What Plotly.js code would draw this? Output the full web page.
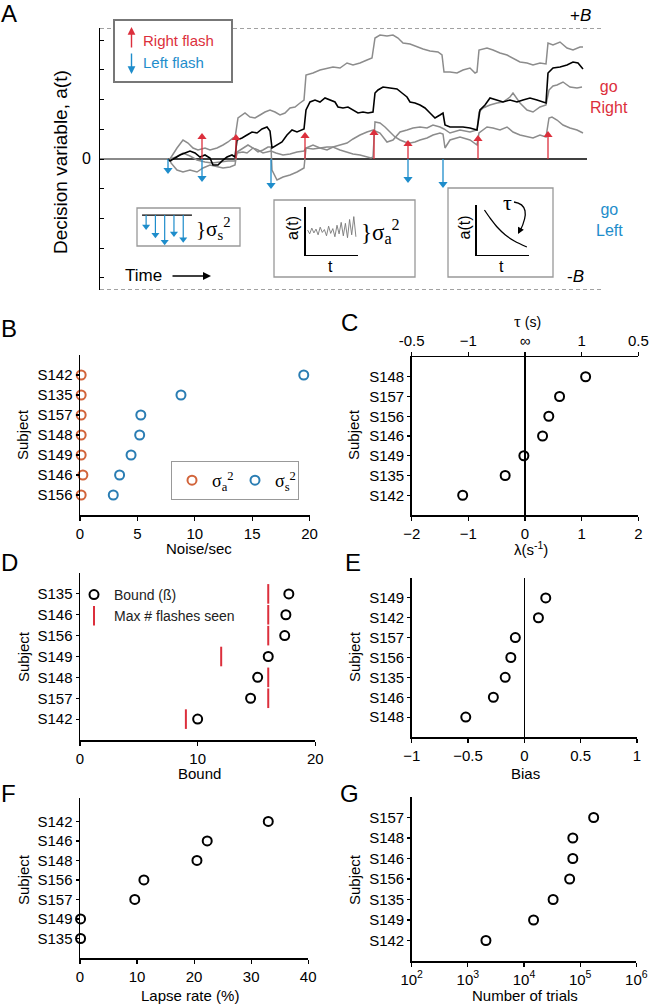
<!DOCTYPE html>
<html><head><meta charset="utf-8">
<script src="https://cdn.plot.ly/plotly-3.0.1.min.js"></script>
<style>body{margin:0;background:#fff}#plot{width:649px;height:1005px}</style>
</head><body><div id="plot"></div><script>
// ---------------- DATA ----------------
// Panel A: decision-variable traces (time units, a units; bound B)
const B_BOUND = 131;
const A_tickvals = [-118.8,-89.1,-59.4,-29.7,0,29.7,59.4,89.1,118.8];
const A_zeroLabel = '0';
const blackT = [68,70,75,80,85,90,95,100,105,110,113,118,123,127,132,135,137,142,147,152,157,162,167,170,172,177,182,187,192,197,202,204,206,210,215,220,225,230,235,238,243,248,253,258,263,268,273,275,278,283,290,297,302,307,310,315,320,325,330,335,340,343,345,350,357,363,370,375,377,380,385,390,397,403,410,417,423,430,437,443,446,448,453,460,467,473,478,483];
const blackA = [0,-2,1,4,6,8,6,2,4,1,-6,-6,-1,2,4,2,19,21,24,27,26,30,32,28,11,14,17,24,29,27,29,30,49,57,59,57,61,59,57,52,51,52,49,46,47,46,47,66,69,72,71,70,66,62,57,56,54,51,46,41,44,46,34,32,32,32,31,29,29,49,54,61,59,57,59,57,59,61,59,57,56,86,91,92,94,97,96,90];
const g1T = [0,68,70,77,83,88,93,98,105,110,117,123,128,133,135,138,142,145,150,155,160,165,170,175,180,185,190,195,200,204,206,213,220,227,233,240,247,253,260,267,272,275,280,287,293,298,303,310,317,323,330,338,342,344,350,357,363,370,375,377,379,387,393,400,407,413,420,427,433,440,446,448,453,460,467,473,480,483];
const g1A = [0,0,0,11,19,16,11,9,11,9,11,14,17,21,21,41,44,46,42,41,44,47,49,47,44,46,51,52,56,59,84,86,89,91,92,91,96,94,96,99,101,121,124,123,124,121,116,115,112,110,108,107,104,87,87,86,89,91,86,87,109,111,109,106,104,101,97,96,94,96,95,116,114,117,111,109,112,112];
const g2T = [0,68,70,76,83,90,97,105,112,120,128,135,137,143,147,153,158,163,168,171,176,183,190,197,204,206,213,220,227,233,240,247,253,260,267,273,280,287,293,300,307,313,320,327,333,340,344,350,360,370,377,379,383,390,397,403,410,413,420,427,433,440,446,449,453,457,463,470,477,482];
const g2A = [0,0,0,2,6,3,-1,-3,-4,-3,-2,-2,6,7,6,11,9,6,7,8,6,4,5,7,8,11,10,11,12,12,14,16,20,24,27,29,26,17,19,27,29,31,32,31,34,32,30,26,29,27,29,47,51,54,56,57,62,66,56,49,47,52,54,69,73,74,77,72,71,72];
const g3T = [0,68,70,71,77,83,90,97,103,110,117,123,130,135,137,143,148,153,158,163,168,171,172,177,183,190,197,204,206,213,220,227,233,240,247,253,260,266,271,273,275,280,285,290,295,300,305,310,315,320,327,333,340,343,345,350,360,370,377,379,387,393,400,407,413,420,427,433,440,446,449,452,457,463,470,477,483];
const g3A = [0,0,0,-4,-11,-13,-11,-13,-9,-6,-8,-9,-8,-6,7,11,14,11,7,9,12,12,-11,-21,-18,-16,-13,-9,11,14,11,9,12,9,7,5,4,2,1,2,37,36,32,27,22,19,17,16,17,19,21,24,26,25,11,19,22,19,14,26,32,31,29,32,27,24,22,21,24,22,41,42,39,34,31,29,26];
const rightFlashT = [102,136,205,274,308,378,448];
const rightFlashA = [22,21,23,26,15,20,24];
const leftFlashT = [68,102,171,308,343];
const leftFlashA = [-11,-19,-26,-20,-25];
// Insets
const ssX = [0.14,0.30,0.46,0.62,0.78];
const ssTip = [0.54,0.31,0.12,0.35,0.19];
const ssBase = 0.86;
const naX = [0.04,0.08,0.12,0.16,0.2,0.24,0.28,0.32,0.36,0.4,0.44,0.48,0.52,0.56,0.6,0.64,0.68,0.72,0.76,0.8,0.84,0.88,0.92,0.96];
const naY = [0.52,0.44,0.56,0.46,0.54,0.42,0.58,0.47,0.53,0.4,0.6,0.45,0.55,0.38,0.62,0.44,0.68,0.4,0.66,0.36,0.74,0.42,0.8,0.38];
const tauX = [0.15,0.27,0.4,0.55,0.72,0.96];
const tauY = [0.9,0.72,0.55,0.4,0.28,0.16];
// Panel B
const B_subjects = ['S142','S135','S157','S148','S149','S146','S156'];
const B_sigmaA = [0.1,0.1,0.1,0.1,0.1,0.25,0.1];
const B_sigmaS = [19.5,8.8,5.3,5.2,4.45,3.45,2.9];
// Panel C
const C_subjects = ['S148','S157','S156','S146','S149','S135','S142'];
const C_lambda = [1.07,0.61,0.42,0.31,-0.02,-0.35,-1.1];
const C_tauTickVals = [-2,-1,0,1,2];
const C_tauTickText = ['-0.5','\u22121','\u221e','1','0.5'];
// Panel D
const D_subjects = ['S135','S146','S156','S149','S148','S157','S142'];
const D_bound = [17.75,17.5,17.4,16.0,15.1,14.5,10.0];
const D_maxFlashes = [16,16,16,12,16,16,9];
// Panel E
const E_subjects = ['S149','S142','S157','S156','S135','S146','S148'];
const E_bias = [0.19,0.125,-0.08,-0.12,-0.17,-0.275,-0.52];
// Panel F
const F_subjects = ['S142','S146','S148','S156','S157','S149','S135'];
const F_lapse = [33.0,22.3,20.5,11.2,9.6,0.1,0.1];
// Panel G
const G_subjects = ['S157','S148','S146','S156','S135','S149','S142'];
const G_trials = [174000,74000,74000,65000,33000,14800,2100];
const G_tickVals = [100,1000,10000,100000,1000000];
const G_tickText = ['10<sup>2</sup>','10<sup>3</sup>','10<sup>4</sup>','10<sup>5</sup>','10<sup>6</sup>'];

// ---------------- HELPERS ----------------
const W=649,H=1005;
const fx=p=>p/W, fy=p=>1-p/H;
const domX=(a,b)=>[a/W,b/W];
const domY=(top,bot)=>[1-bot/H,1-top/H];
const RED='#dc2f3c', BLUE='#1e8dcb', ORANGE='#d2643a', BLUE2='#2a7db3', GRAY='#8c8c8c';
const SANS='"Liberation Sans", Arial, Helvetica, sans-serif';
const SERIF='"Liberation Serif", "Times New Roman", serif';
const TICKFONT={family:SANS,size:15,color:'#000'};

function stems(ts,as,base){const x=[],y=[];ts.forEach((t,i)=>{x.push(t,t,null);y.push(base,as[i],null);});return {x,y};}

const traces=[];
// zero line
traces.push({x:[0,487],y:[0,0],mode:'lines',line:{color:'#000',width:1.6},xaxis:'x',yaxis:'y',showlegend:false});
[[g1T,g1A],[g2T,g2A],[g3T,g3A]].forEach(([t,a])=>traces.push({x:t,y:a,mode:'lines',line:{color:GRAY,width:1.5},xaxis:'x',yaxis:'y',showlegend:false}));
traces.push({x:blackT,y:blackA,mode:'lines',line:{color:'#000',width:1.6},xaxis:'x',yaxis:'y',showlegend:false});
const rs=stems(rightFlashT,rightFlashA,0), ls=stems(leftFlashT,leftFlashA,0);
traces.push({x:rs.x,y:rs.y,mode:'lines',line:{color:RED,width:1.3},xaxis:'x',yaxis:'y',showlegend:false});
traces.push({x:ls.x,y:ls.y,mode:'lines',line:{color:BLUE,width:1.3},xaxis:'x',yaxis:'y',showlegend:false});
traces.push({x:rightFlashT,y:rightFlashA,mode:'markers',marker:{symbol:'triangle-up',size:8,color:RED},xaxis:'x',yaxis:'y',showlegend:false,cliponaxis:false});
traces.push({x:leftFlashT,y:leftFlashA,mode:'markers',marker:{symbol:'triangle-down',size:8,color:BLUE},xaxis:'x',yaxis:'y',showlegend:false,cliponaxis:false});
// inset sigma_s
traces.push({x:[0.07,0.93],y:[ssBase,ssBase],mode:'lines',line:{color:'#000',width:1.2},xaxis:'x2',yaxis:'y2',showlegend:false});
const ss=stems(ssX,ssTip,ssBase);
traces.push({x:ss.x,y:ss.y,mode:'lines',line:{color:BLUE,width:1.2},xaxis:'x2',yaxis:'y2',showlegend:false});
traces.push({x:ssX,y:ssTip,mode:'markers',marker:{symbol:'triangle-down',size:7,color:BLUE},xaxis:'x2',yaxis:'y2',showlegend:false,cliponaxis:false});
// inset sigma_a
traces.push({x:naX,y:naY,mode:'lines',line:{color:'#777',width:0.9},xaxis:'x3',yaxis:'y3',showlegend:false});
// inset tau
traces.push({x:tauX,y:tauY,mode:'lines',line:{color:'#000',width:1.3,shape:'spline'},xaxis:'x4',yaxis:'y4',showlegend:false});

const CIRC={symbol:'circle-open',size:9,color:'#000',line:{width:2}};
// Panel B
traces.push({x:B_sigmaA,y:B_subjects,mode:'markers',name:'\u03c3<sub>a</sub><sup>2</sup>',marker:Object.assign({},CIRC,{color:ORANGE}),xaxis:'x5',yaxis:'y5',cliponaxis:false,legend:'legend'});
traces.push({x:B_sigmaS,y:B_subjects,mode:'markers',name:'\u03c3<sub>s</sub><sup>2</sup>',marker:Object.assign({},CIRC,{color:BLUE2}),xaxis:'x5',yaxis:'y5',cliponaxis:false,legend:'legend'});
// Panel C
traces.push({x:C_lambda,y:C_subjects,mode:'markers',marker:CIRC,xaxis:'x6',yaxis:'y6',showlegend:false,cliponaxis:false});
traces.push({x:[null],y:[null],mode:'markers',xaxis:'x7',yaxis:'y6',showlegend:false,hoverinfo:'skip'});
// Panel D
traces.push({x:D_bound,y:D_subjects,mode:'markers',name:'Bound (\u00df)',marker:CIRC,xaxis:'x8',yaxis:'y8',cliponaxis:false,legend:'legend2'});
traces.push({x:D_maxFlashes,y:D_subjects,mode:'markers',name:'Max # flashes seen',marker:{symbol:'line-ns-open',size:14,color:RED,line:{width:2,color:RED}},xaxis:'x8',yaxis:'y8',cliponaxis:false,legend:'legend2'});
// Panel E
traces.push({x:E_bias,y:E_subjects,mode:'markers',marker:CIRC,xaxis:'x9',yaxis:'y9',showlegend:false,cliponaxis:false});
// Panel F
traces.push({x:F_lapse,y:F_subjects,mode:'markers',marker:CIRC,xaxis:'x10',yaxis:'y10',showlegend:false,cliponaxis:false});
// Panel G
traces.push({x:G_trials,y:G_subjects,mode:'markers',marker:CIRC,xaxis:'x11',yaxis:'y11',showlegend:false,cliponaxis:false});

// ---------------- AXES ----------------
function xAx(domain,range,anchor,extra){return Object.assign({domain,range,anchor,showline:true,linecolor:'#000',linewidth:1.5,ticks:'outside',ticklen:4,tickwidth:1.2,tickcolor:'#000',showgrid:false,zeroline:false,tickfont:TICKFONT,ticklabeloverflow:'allow',fixedrange:true},extra||{});}
function yCat(domain,subjects,anchor,range){return {domain,anchor,type:'category',categoryorder:'array',categoryarray:subjects.slice().reverse(),range:range||[-1,7],showline:true,linecolor:'#000',linewidth:1.5,ticks:'outside',ticklen:3,tickwidth:1.2,tickcolor:'#000',showgrid:false,zeroline:false,tickfont:TICKFONT,fixedrange:true};}
const hidden={visible:false,fixedrange:true};
const miniAx=(domain,anchor)=>({domain,anchor,range:[0,1],showline:true,linecolor:'#000',linewidth:1.2,ticks:'',showticklabels:false,showgrid:false,zeroline:false,fixedrange:true});

const layout={
  width:W,height:H,margin:{l:0,r:0,t:0,b:0},paper_bgcolor:'#fff',plot_bgcolor:'rgba(0,0,0,0)',
  font:{family:SANS,color:'#000'},
  xaxis:Object.assign({},hidden,{domain:domX(100,606),range:[0,506],anchor:'y'}),
  yaxis:{domain:domY(28,290),range:[-B_BOUND,B_BOUND],anchor:'x',showline:true,linecolor:'#000',linewidth:1.2,ticks:'inside',ticklen:4,tickcolor:'#000',tickvals:A_tickvals,showticklabels:false,showgrid:false,zeroline:false,fixedrange:true},
  xaxis2:Object.assign({},hidden,{domain:domX(138,196),range:[0,1],anchor:'y2'}),
  yaxis2:Object.assign({},hidden,{domain:domY(210,246),range:[0,1],anchor:'x2'}),
  xaxis3:miniAx(domX(305.5,358),'y3'),
  yaxis3:miniAx(domY(207,255),'x3'),
  xaxis4:miniAx(domX(476.6,529),'y4'),
  yaxis4:miniAx(domY(205,255),'x4'),
  xaxis5:xAx(domX(80,309.5),[0,20],'y5',{dtick:5}),
  yaxis5:yCat(domY(355,515),B_subjects,'x5'),
  xaxis6:xAx(domX(411.7,638.3),[-2,2],'y6',{dtick:1,zeroline:true,zerolinecolor:'#000',zerolinewidth:1.5}),
  xaxis7:xAx(domX(411.7,638.3),[-2,2],'y6',{overlaying:'x6',side:'top',tickmode:'array',tickvals:C_tauTickVals,ticktext:C_tauTickText}),
  yaxis6:yCat(domY(357,515),C_subjects,'x6'),
  xaxis8:xAx(domX(80,315.3),[0,20],'y8',{dtick:10}),
  yaxis8:yCat(domY(573,740),D_subjects,'x8'),
  xaxis9:xAx(domX(411.7,637),[-1,1],'y9',{dtick:0.5,zeroline:true,zerolinecolor:'#000',zerolinewidth:1.5}),
  yaxis9:yCat(domY(578,737),E_subjects,'x9'),
  xaxis10:xAx(domX(80,308.2),[0,40],'y10',{dtick:10}),
  yaxis10:yCat(domY(798,958),F_subjects,'x10',[-1,7.2]),
  xaxis11:xAx(domX(411.7,636.3),[2,6],'y11',{type:'log',tickmode:'array',tickvals:G_tickVals,ticktext:G_tickText}),
  yaxis11:yCat(domY(797,961),G_subjects,'x11'),
  legend:{x:fx(171),y:fy(461),xanchor:'left',yanchor:'top',orientation:'h',bordercolor:'#999',borderwidth:1,bgcolor:'#fff',font:{family:SERIF,size:18,color:'#000'},itemwidth:30,entrywidth:18,entrywidthmode:'pixels',tracegroupgap:0},
  legend2:{x:fx(74),y:fy(579),xanchor:'left',yanchor:'top',orientation:'v',borderwidth:0,bgcolor:'rgba(0,0,0,0)',font:{family:SANS,size:14,color:'#222'},itemwidth:30,tracegroupgap:0},
  shapes:[],annotations:[]
};

// shapes
const sh=layout.shapes;
sh.push({type:'line',xref:'x',yref:'y',x0:0,x1:502,y0:B_BOUND,y1:B_BOUND,line:{color:'#444',width:1,dash:'4px,3px'}});
sh.push({type:'line',xref:'x',yref:'y',x0:0,x1:502,y0:-B_BOUND,y1:-B_BOUND,line:{color:'#444',width:1,dash:'4px,3px'}});
const rectP=(x0,y0,x1,y1,c,w)=>({type:'rect',xref:'paper',yref:'paper',x0:fx(x0),x1:fx(x1),y0:fy(y1),y1:fy(y0),line:{color:c,width:w},fillcolor:'#fff',layer:'below'});
sh.push(Object.assign(rectP(114,20,232,82,'#777',2),{layer:'above'}));
sh.push(rectP(137,208,240,246,'#999',1.3));
sh.push(rectP(274,200,415,277,'#999',1.3));
sh.push(rectP(448,188,553,277,'#999',1.3));
sh.push({type:'path',xref:'paper',yref:'paper',path:`M ${fx(514)} ${fy(202)} Q ${fx(533)} ${fy(205)} ${fx(520)} ${fy(231)}`,line:{color:'#000',width:1.3}});

// annotations
const an=layout.annotations;
const T=(px,py,text,opt)=>an.push(Object.assign({xref:'paper',yref:'paper',x:fx(px),y:fy(py),text,showarrow:false,xanchor:'center',yanchor:'middle',font:{family:SANS,size:15,color:'#000'}},opt||{}));
const LET={family:SANS,size:24,color:'#000'};
T(9,14,'A',{font:LET});T(9,328,'B',{font:LET});T(349,322,'C',{font:LET});
T(9,562,'D',{font:LET});T(353,562,'E',{font:LET});T(8,793,'F',{font:LET});T(349,793,'G',{font:LET});
T(93,159,A_zeroLabel,{xanchor:'right',font:{family:SANS,size:16,color:'#000'}});
T(60,162,'Decision variable, a(t)',{textangle:-90,font:{family:SANS,size:19,color:'#000'}});
T(580,15,'+<i>B</i>',{font:{family:SANS,size:17,color:'#000'}});
T(575,277,'-<i>B</i>',{font:{family:SANS,size:17,color:'#000'}});
T(609,97,'go<br>Right',{font:{family:SANS,size:16,color:RED}});
T(609,220,'go<br>Left',{font:{family:SANS,size:16,color:BLUE}});
T(141,40,'Right flash',{xanchor:'left',font:{family:SANS,size:15,color:RED}});
T(141,62,'Left flash',{xanchor:'left',font:{family:SANS,size:15,color:BLUE}});
an.push({xref:'paper',yref:'paper',x:fx(131.5),y:fy(27),ax:0,ay:22,text:'',showarrow:true,arrowhead:2,arrowsize:1.1,arrowwidth:1.4,arrowcolor:RED});
an.push({xref:'paper',yref:'paper',x:fx(131.5),y:fy(74),ax:0,ay:-22,text:'',showarrow:true,arrowhead:2,arrowsize:1.1,arrowwidth:1.4,arrowcolor:BLUE});
T(123,276,'Time',{xanchor:'left',font:{family:SANS,size:17,color:'#000'}});
an.push({xref:'paper',yref:'paper',x:fx(211),y:fy(276),ax:-40,ay:0,text:'',showarrow:true,arrowhead:2,arrowsize:1,arrowwidth:1.6,arrowcolor:'#000'});
T(194,228,'}\u03c3<sub>s</sub><sup>2</sup>',{xanchor:'left',font:{family:SERIF,size:21,color:'#000'}});
T(359,231,'}\u03c3<sub>a</sub><sup>2</sup>',{xanchor:'left',font:{family:SERIF,size:23,color:'#000'}});
T(292,228,'a(t)',{textangle:-90,font:{family:SANS,size:16,color:'#000'}});
T(330,267,'t',{font:{family:SANS,size:16,color:'#000'}});
T(463.5,228,'a(t)',{textangle:-90,font:{family:SANS,size:16,color:'#000'}});
T(501,267,'t',{font:{family:SANS,size:16,color:'#000'}});
T(507,202,'\u03c4',{font:{family:SERIF,size:22,color:'#000'}});
an.push({xref:'paper',yref:'paper',x:fx(518),y:fy(234),ax:3,ay:-6,text:'',showarrow:true,arrowhead:2,arrowsize:1,arrowwidth:1.3,arrowcolor:'#000'});
// axis titles
const TT={family:SANS,size:15,color:'#000'};
T(23,435,'Subject',{textangle:-90,font:TT});T(354,435,'Subject',{textangle:-90,font:TT});
T(23,657,'Subject',{textangle:-90,font:TT});T(354,657,'Subject',{textangle:-90,font:TT});
T(23,880,'Subject',{textangle:-90,font:TT});T(354,880,'Subject',{textangle:-90,font:TT});
T(199,548,'Noise/sec',{font:TT});
T(531,548,'\u03bb(s<sup>-1</sup>)',{font:TT});
T(527,321,'<span style="font-family:Liberation Serif;font-size:17px">\u03c4</span> (s)',{font:{family:SANS,size:14,color:'#000'}});
T(199,773,'Bound',{font:TT});
T(525,773,'Bias',{font:TT});
T(190,995,'Lapse rate (%)',{font:TT});
T(525,995,'Number of trials',{font:TT});

Plotly.newPlot('plot',traces,layout,{displayModeBar:false,staticPlot:true});
</script></body></html>
